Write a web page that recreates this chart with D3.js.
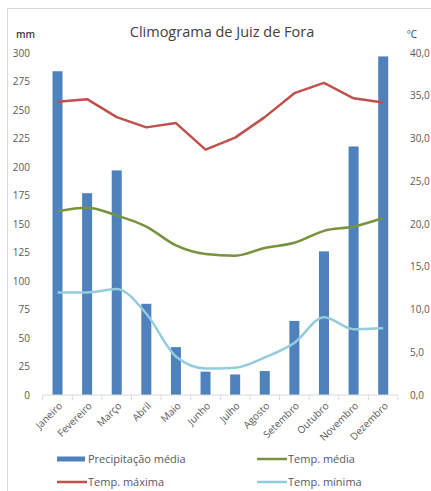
<!DOCTYPE html>
<html>
<head>
<meta charset="utf-8">
<script src="https://cdn.jsdelivr.net/npm/d3@7"></script>
<style>
  body { margin: 0; background: #fff; }
  text { font-family: "Open Sans", "Liberation Sans", sans-serif; }
</style>
</head>
<body>
<div id="chart"></div>
<script>
// Chart data
const months = ["Janeiro", "Fevereiro", "Março", "Abril", "Maio", "Junho", "Julho", "Agosto", "Setembro", "Outubro", "Novembro", "Dezembro"];
const precipitation = [284, 177, 197, 80, 42, 20.5, 18, 21, 65, 126, 218, 297];
const tempMax = [34.3, 34.6, 32.5, 31.3, 31.8, 28.7, 30.1, 32.5, 35.3, 36.5, 34.7, 34.2];
const tempMean = [21.5, 21.9, 21.0, 19.7, 17.5, 16.5, 16.3, 17.2, 17.8, 19.2, 19.7, 20.7];
const tempMin = [12.0, 12.0, 12.4, 9.5, 4.5, 3.1, 3.2, 4.4, 6.1, 9.1, 7.7, 7.8];
const leftTicks = [0, 25, 50, 75, 100, 125, 150, 175, 200, 225, 250, 275, 300];
const rightTicks = [0, 5, 10, 15, 20, 25, 30, 35, 40];

const W = 431, H = 491;
const plot = { left: 42.7, right: 398, top: 53, bottom: 395 };

const svg = d3.select("#chart")
    .append("svg")
    .attr("width", W)
    .attr("height", H);

// chart area border (runs off the right and bottom edge)
svg.append("rect")
    .attr("x", 7.5).attr("y", 8.5)
    .attr("width", 500).attr("height", 600)
    .attr("fill", "#fff")
    .attr("stroke", "#d9d9d9");

// Scales
const x = d3.scaleBand().domain(months).range([plot.left, plot.right]).paddingInner(0).paddingOuter(0);
const yLeft = d3.scaleLinear().domain([0, 300]).range([plot.bottom, plot.top]);
const yRight = d3.scaleLinear().domain([0, 40]).range([plot.bottom, plot.top]);
const barW = 10;

// Title
svg.append("text")
    .attr("x", 222).attr("y", 37)
    .attr("text-anchor", "middle")
    .style("font-size", "14.5px")
    .attr("fill", "#404040")
    .text("Climograma de Juiz de Fora");

svg.append("text")
    .attr("x", 16).attr("y", 38)
    .style("font-size", "10px")
    .style("font-weight", "600")
    .attr("fill", "#404040")
    .text("mm");

svg.append("text")
    .attr("x", 407).attr("y", 38)
    .style("font-size", "10px")
    .attr("fill", "#404040")
    .text("ºC");

// Left axis labels
svg.append("g")
    .selectAll("text")
    .data(leftTicks)
    .join("text")
    .attr("x", 30)
    .attr("y", d => yLeft(d))
    .attr("dy", "0.35em")
    .attr("text-anchor", "end")
    .style("font-size", "10px")
    .attr("fill", "#595959")
    .text(d => d);

// Right axis labels
svg.append("g")
    .selectAll("text")
    .data(rightTicks)
    .join("text")
    .attr("x", 410)
    .attr("y", d => yRight(d))
    .attr("dy", "0.35em")
    .attr("text-anchor", "start")
    .style("font-size", "10px")
    .attr("fill", "#595959")
    .text(d => d3.format(".1f")(d).replace(".", ","));

// Bars
svg.append("g")
    .selectAll("rect")
    .data(precipitation)
    .join("rect")
    .attr("x", (d, i) => x(months[i]) + x.bandwidth() / 2 - barW / 2)
    .attr("y", d => yLeft(d))
    .attr("width", barW)
    .attr("height", d => yLeft(0) - yLeft(d))
    .attr("fill", "#4f81bd");

// Bottom axis
const xAxis = svg.append("g").attr("transform", `translate(0,${plot.bottom})`);
xAxis.append("line")
    .attr("x1", plot.left).attr("x2", plot.right)
    .attr("stroke", "#d9d9d9");
xAxis.selectAll(".tick")
    .data(d3.range(months.length + 1))
    .join("line")
    .attr("x1", i => plot.left + i * x.step())
    .attr("x2", i => plot.left + i * x.step())
    .attr("y1", 0).attr("y2", 5)
    .attr("stroke", "#d9d9d9");
xAxis.selectAll("text")
    .data(months)
    .join("text")
    .attr("transform", d => `translate(${x(d) + x.bandwidth() / 2 + 3},${9}) rotate(-45)`)
    .attr("text-anchor", "end")
    .attr("dy", "0.35em")
    .style("font-size", "10px")
    .attr("fill", "#595959")
    .text(d => d);

// Lines
const cx = i => x(months[i]) + x.bandwidth() / 2;
const lineSharp = d3.line().x((d, i) => cx(i)).y(d => yRight(d));
const lineSmooth = d3.line().x((d, i) => cx(i)).y(d => yRight(d)).curve(d3.curveMonotoneX);

const series = [
    { values: tempMax, color: "#c0504d", gen: lineSharp },
    { values: tempMean, color: "#77933c", gen: lineSmooth },
    { values: tempMin, color: "#93cddd", gen: lineSmooth }
];

svg.append("g")
    .selectAll("path")
    .data(series)
    .join("path")
    .attr("fill", "none")
    .attr("stroke", d => d.color)
    .attr("stroke-width", 2.5)
    .attr("stroke-linejoin", "round")
    .attr("d", d => d.gen(d.values));

// Legend
const legend = [
    { label: "Precipitação média", color: "#4f81bd", type: "bar", x: 57, y: 459 },
    { label: "Temp. média", color: "#77933c", type: "line", x: 257, y: 459 },
    { label: "Temp. máxima", color: "#c0504d", type: "line", x: 57, y: 482 },
    { label: "Temp. mínima", color: "#93cddd", type: "line", x: 257, y: 482 }
];

const lg = svg.append("g")
    .selectAll("g")
    .data(legend)
    .join("g")
    .attr("transform", d => `translate(${d.x},${d.y})`);

lg.filter(d => d.type === "bar")
    .append("rect")
    .attr("x", 0).attr("y", -2.5)
    .attr("width", 28).attr("height", 5)
    .attr("fill", d => d.color);

lg.filter(d => d.type === "line")
    .append("line")
    .attr("x1", 0).attr("x2", 30)
    .attr("stroke", d => d.color)
    .attr("stroke-width", 2.5);

lg.append("text")
    .attr("x", 31)
    .attr("dy", "0.35em")
    .style("font-size", "11px")
    .attr("fill", "#595959")
    .text(d => d.label);
</script>
</body>
</html>
